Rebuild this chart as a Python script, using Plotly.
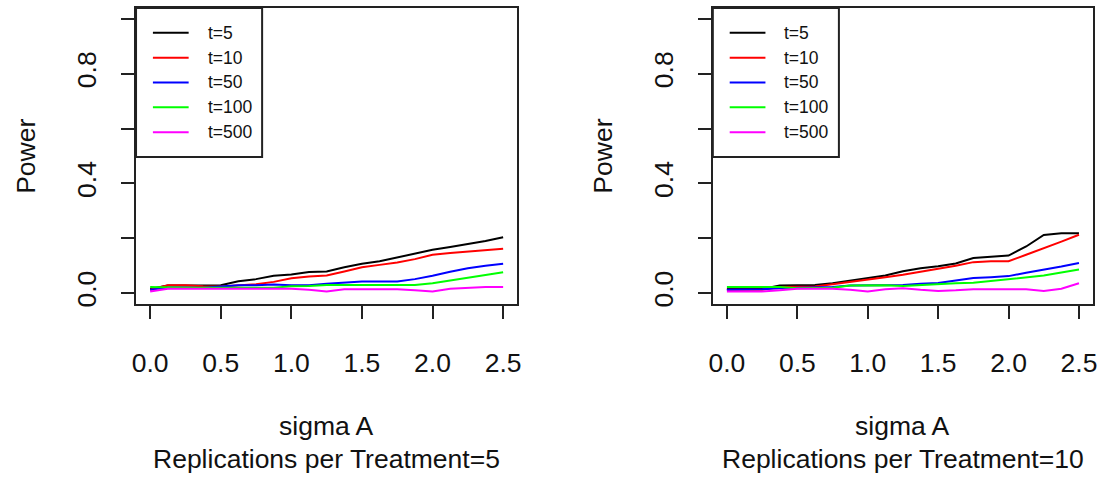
import plotly.graph_objects as go

sigma = [0.0, 0.125, 0.25, 0.375, 0.5, 0.625, 0.75, 0.875, 1.0, 1.125, 1.25,
         1.375, 1.5, 1.625, 1.75, 1.875, 2.0, 2.125, 2.25, 2.375, 2.5]

series_names = ["t=5", "t=10", "t=50", "t=100", "t=500"]
series_colors = ["#000000", "#FF0000", "#0000FF", "#00FF00", "#FF00FF"]

# Replications per Treatment = 5
t5_r5 = [0.015, 0.028, 0.028, 0.028, 0.029, 0.043, 0.051, 0.063, 0.068, 0.077, 0.079,
         0.094, 0.107, 0.116, 0.130, 0.146, 0.158, 0.168, 0.178, 0.190, 0.204]
t10_r5 = [0.012, 0.029, 0.029, 0.025, 0.024, 0.029, 0.032, 0.041, 0.054, 0.061, 0.064,
          0.079, 0.094, 0.103, 0.112, 0.124, 0.140, 0.146, 0.152, 0.158, 0.162]
t50_r5 = [0.012, 0.020, 0.020, 0.020, 0.024, 0.029, 0.029, 0.031, 0.029, 0.029, 0.034,
          0.039, 0.042, 0.042, 0.042, 0.051, 0.063, 0.078, 0.091, 0.100, 0.107]
t100_r5 = [0.022, 0.020, 0.020, 0.020, 0.020, 0.020, 0.020, 0.020, 0.025, 0.026, 0.030,
           0.030, 0.030, 0.029, 0.028, 0.030, 0.036, 0.046, 0.056, 0.065, 0.076]
t500_r5 = [0.006, 0.016, 0.016, 0.016, 0.016, 0.016, 0.016, 0.016, 0.016, 0.012, 0.006,
           0.014, 0.014, 0.014, 0.014, 0.010, 0.006, 0.016, 0.020, 0.022, 0.022]

# Replications per Treatment = 10
t5_r10 = [0.015, 0.015, 0.015, 0.028, 0.030, 0.030, 0.036, 0.046, 0.055, 0.064, 0.080,
          0.091, 0.098, 0.108, 0.128, 0.133, 0.137, 0.170, 0.212, 0.218, 0.218]
t10_r10 = [0.012, 0.012, 0.012, 0.022, 0.024, 0.024, 0.032, 0.040, 0.050, 0.058, 0.067,
           0.077, 0.089, 0.100, 0.113, 0.116, 0.116, 0.140, 0.163, 0.188, 0.213]
t50_r10 = [0.012, 0.012, 0.014, 0.018, 0.020, 0.021, 0.022, 0.028, 0.028, 0.028, 0.030,
           0.034, 0.037, 0.046, 0.055, 0.058, 0.062, 0.074, 0.085, 0.097, 0.110]
t100_r10 = [0.022, 0.022, 0.022, 0.022, 0.018, 0.018, 0.020, 0.028, 0.029, 0.029, 0.026,
            0.030, 0.033, 0.036, 0.038, 0.044, 0.050, 0.058, 0.064, 0.075, 0.086]
t500_r10 = [0.006, 0.006, 0.006, 0.010, 0.016, 0.016, 0.016, 0.012, 0.006, 0.014, 0.018,
            0.012, 0.008, 0.010, 0.014, 0.014, 0.014, 0.014, 0.008, 0.016, 0.036]

panel_titles = ["Replications per Treatment=5", "Replications per Treatment=10"]
x_label = "sigma A"
y_label = "Power"
x_ticks = [0.0, 0.5, 1.0, 1.5, 2.0, 2.5]
x_ticktext = ["0.0", "0.5", "1.0", "1.5", "2.0", "2.5"]
y_ticks = [0.0, 0.2, 0.4, 0.6, 0.8, 1.0]
y_ticktext = ["0.0", "", "0.4", "", "0.8", ""]

panels = [
    [t5_r5, t10_r5, t50_r5, t100_r5, t500_r5],
    [t5_r10, t10_r10, t50_r10, t100_r10, t500_r10],
]

W, H = 1104, 479
FONT = "Liberation Sans, Arial, sans-serif"
FS = 26.5


def px(x):
    return x / W


def py(y):
    return 1 - y / H


# plot box pixel positions (left, right) and vertical extent
boxes = [(133, 517), (714, 1097)]
top_px, bot_px = 8, 306

fig = go.Figure()
layout_axes = {}
annotations = []
shapes = []

for i, (series_list, (bl, br)) in enumerate(zip(panels, boxes)):
    xa = "x" if i == 0 else f"x{i+1}"
    ya = "y" if i == 0 else f"y{i+1}"
    for name, color, vals in zip(series_names, series_colors, series_list):
        fig.add_trace(go.Scatter(x=sigma, y=vals, mode="lines", name=name,
                                 line=dict(color=color, width=2), xaxis=xa, yaxis=ya,
                                 showlegend=False, hoverinfo="skip"))
    xkey = "xaxis" if i == 0 else f"xaxis{i+1}"
    ykey = "yaxis" if i == 0 else f"yaxis{i+1}"
    layout_axes[xkey] = dict(
        domain=[px(bl), px(br)], range=[-0.1, 2.6], anchor=ya,
        tickvals=x_ticks, ticktext=x_ticktext, ticks="outside", ticklen=13,
        tickwidth=2, tickcolor="#222", showline=True, linecolor="#222", linewidth=2,
        mirror=True, showgrid=False, zeroline=False,
        tickfont=dict(family=FONT, size=FS, color="#111"), ticklabelstandoff=21,
    )
    layout_axes[ykey] = dict(
        domain=[py(bot_px), py(top_px)], range=[-0.04, 1.04], anchor=xa,
        tickvals=y_ticks, ticktext=y_ticktext, ticks="outside", ticklen=13,
        tickwidth=2, tickcolor="#222", showline=True, linecolor="#222", linewidth=2,
        mirror=True, showgrid=False, zeroline=False, tickangle=-90,
        tickfont=dict(family=FONT, size=FS, color="#111"), ticklabelstandoff=14,
    )
    cx = (bl + br) / 2
    annotations.append(dict(text=x_label, x=px(cx), y=py(429), xref="paper", yref="paper",
                            showarrow=False, xanchor="center", yanchor="middle",
                            font=dict(family=FONT, size=FS, color="#111")))
    annotations.append(dict(text=panel_titles[i], x=px(cx), y=py(462), xref="paper", yref="paper",
                            showarrow=False, xanchor="center", yanchor="middle",
                            font=dict(family=FONT, size=FS, color="#111")))
    annotations.append(dict(text=y_label, x=px(bl - 111), y=py(157), xref="paper", yref="paper",
                            showarrow=False, xanchor="center", yanchor="middle", textangle=-90,
                            font=dict(family=FONT, size=FS, color="#111")))
    # legend box
    shapes.append(dict(type="rect", xref="paper", yref="paper",
                       x0=px(bl), x1=px(bl + 127), y0=py(158), y1=py(top_px),
                       line=dict(color="#222", width=2), fillcolor="white", layer="above"))
    for k, (name, color) in enumerate(zip(series_names, series_colors)):
        yy = 33 + 25 * k
        shapes.append(dict(type="line", xref="paper", yref="paper",
                           x0=px(bl + 17), x1=px(bl + 53), y0=py(yy), y1=py(yy),
                           line=dict(color=color, width=2), layer="above"))
        annotations.append(dict(text=name, x=px(bl + 70), y=py(yy), xref="paper", yref="paper",
                                showarrow=False, xanchor="left", yanchor="middle",
                                font=dict(family=FONT, size=17.5, color="#111")))

fig.update_layout(
    width=W, height=H, margin=dict(l=0, r=0, t=0, b=0),
    paper_bgcolor="white", plot_bgcolor="white",
    annotations=annotations, shapes=shapes, **layout_axes,
)

fig.write_html("out.html")
